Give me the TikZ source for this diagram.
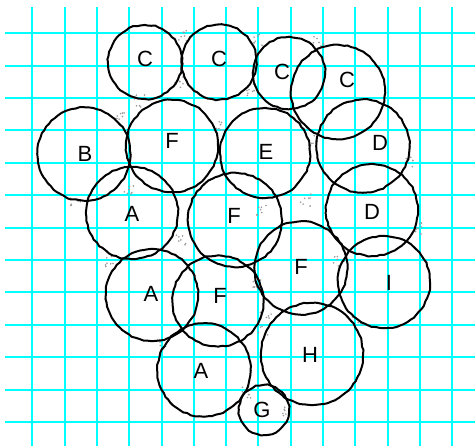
\documentclass[tikz,border=0pt]{standalone}
\usepackage{fontspec}
\setmainfont{Liberation Sans}
\usetikzlibrary{decorations.pathmorphing}
\definecolor{gridcyan}{RGB}{0,255,255}

\begin{document}
\begin{tikzpicture}[
  x=1pt, y=-1pt,
  gridline/.style={draw=gridcyan, line width=2pt},
  disk/.style={circle, draw, line width=2pt, inner sep=0pt,
    decorate, decoration={random steps, segment length=4pt, amplitude=0.6pt}},
  tag/.style={inner sep=0pt, font=\fontsize{22}{26}\selectfont},
  speck/.style={fill=gray!80}
]
\pgfmathsetseed{7}
\useasboundingbox (0,0) rectangle (475,446);
\fill[white] (0,0) rectangle (475,446);
% grid
\foreach \i in {0,...,13}
  \draw[gridline] (32.3+32.3*\i,7) -- (32.3+32.3*\i,446);
\foreach \j in {0,...,12}
  \draw[gridline] (5,33.3+32.4*\j) -- (475,33.3+32.4*\j);

% grey specks in the gaps
\foreach \sx/\sy in {182/35,180/82,140/101,122/118,130/190,218/125,257/40,
    252/90,318/42,410/162,416/228,313/140,306/200,76/200,110/262,181/240,
    262/210,338/262,357/322,266/315,259/282,160/345,245/392,287/412,262/332}
  \foreach \k in {1,...,7}
    \fill[speck] ({\sx+6*rand},{\sy+6*rand}) circle (0.9);

% top row
\node[disk, minimum size=74pt] (c1) at (145,62) {};
\node[tag] (c1t) at (145,59) {C};
\node[disk, minimum size=75pt] (c2) at (219,62) {};
\node[tag] (c2t) at (219,59) {C};
\node[disk, minimum size=72pt] (c3) at (289,73) {};
\node[tag] (c3t) at (282,72) {C};
\node[disk, minimum size=94pt] (c4) at (338,92) {};
\node[tag] (c4t) at (347,80) {C};

% second row
\node[disk, minimum size=93pt] (b) at (84,154) {};
\node[tag] (bt) at (85,154) {B};
\node[disk, minimum size=92pt] (f1) at (172,146) {};
\node[tag] (f1t) at (172,141) {F};
\node[disk, minimum size=90pt] (e) at (265,153) {};
\node[tag] (et) at (266,152) {E};
\node[disk, minimum size=93pt] (d1) at (363,146) {};
\node[tag] (d1t) at (380,143) {D};

% third row
\node[disk, minimum size=92pt] (a1) at (132,213) {};
\node[tag] (a1t) at (132,214) {A};
\node[disk, minimum size=94pt] (f2) at (235,220) {};
\node[tag] (f2t) at (234,216) {F};
\node[disk, minimum size=92pt] (d2) at (372,210) {};
\node[tag] (d2t) at (372,212) {D};

% fourth row
\node[disk, minimum size=92pt] (a2) at (152,295) {};
\node[tag] (a2t) at (151,294) {A};
\node[disk, minimum size=91pt] (f3) at (218,301) {};
\node[tag] (f3t) at (220,296) {F};
\node[disk, minimum size=93pt] (f4) at (301,268) {};
\node[tag] (f4t) at (301,267) {F};
\node[disk, minimum size=92pt] (i) at (384,282) {};
\node[tag] (it) at (389,283) {I};

% bottom
\node[disk, minimum size=93pt] (a3) at (204,370) {};
\node[tag] (a3t) at (201,371) {A};
\node[disk, minimum size=102pt] (h) at (312,354) {};
\node[tag] (ht) at (310,355) {H};
\node[disk, minimum size=50pt] (g) at (264,410) {};
\node[tag] (gt) at (262,410) {G};
\end{tikzpicture}
\end{document}
